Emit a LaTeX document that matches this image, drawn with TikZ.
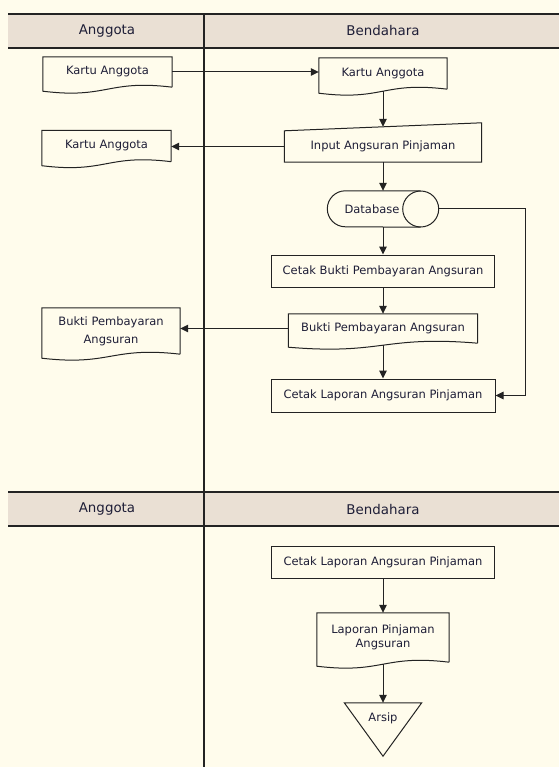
\documentclass[tikz,border=0pt]{standalone}
\usepackage{fontspec}
\setmainfont{DejaVu Sans}
\usetikzlibrary{positioning,arrows.meta}

\definecolor{paper}{RGB}{255,252,236}
\definecolor{lanehead}{RGB}{234,224,212}
\definecolor{ink}{RGB}{35,35,35}
\definecolor{txt}{RGB}{30,30,55}

\tikzset{
	every node/.style={font=\fontsize{11.5}{14}\selectfont, text=txt},
	outline/.style={draw=ink, line width=1pt},
	proc/.style={outline, fill=paper},
	docu/.style={inner sep=2pt, align=center},
	lanetitle/.style={font=\fontsize{13.4}{16}\selectfont},
	flow/.style={outline, -{Triangle[length=8pt,width=7.5pt]}},
}

\newcommand{\docshape}[1]{\draw[outline] (#1.south east) -- (#1.north east) -- (#1.north west) -- ([yshift=-4pt]#1.south west) .. controls ([yshift=-12pt]#1.south) and ([yshift=8pt]#1.south) .. (#1.south east);}

\begin{document}
\begin{tikzpicture}[x=1pt, y=1pt, node distance=60pt, on grid]
			\useasboundingbox[fill=paper] (0,0) rectangle (559,-767);
			\fill[lanehead] (8,-14) rectangle (559,-48);
			\fill[lanehead] (8,-492) rectangle (559,-526);
			\draw[ink, line width=1.1pt] (8,-14) -- (559,-14) (8,-48) -- (559,-48)
				(8,-492) -- (559,-492) (8,-526) -- (559,-526)
				(204,-14) -- (204,-767);
			\node[lanetitle] (agt_1) at (107,-31) {Anggota};
			\node[lanetitle] (bdh_1) at (383,-31) {Bendahara};
			\node[lanetitle] (agt_2) at (107,-509) {Anggota};
			\node[lanetitle] (bdh_2) at (383,-509) {Bendahara};
			
			\node[docu, minimum width=129pt, minimum height=30pt] (kartu_a) at (107.5,-72) {Kartu Anggota};
			\node[docu, minimum width=129pt, minimum height=31pt] (kartu_c) at (106.5,-146) {Kartu Anggota};
			\node[docu, minimum width=138pt, minimum height=46pt] (bukti_a) at (111,-331) {Bukti Pembayaran\\[4pt]Angsuran};
			
			\node[docu, minimum width=128pt, minimum height=31pt] (kartu_b) at (383,-73.5) {Kartu Anggota};
			\node[minimum width=197pt, minimum height=31pt] (input) [below=73pt of kartu_b] {Input Angsuran Pinjaman};
			\node[minimum width=111pt, minimum height=36pt] (db) [below=62.5pt of input] {Database\hspace*{22pt}};
			\node[proc, minimum width=223pt, minimum height=32pt] (cetak_bukti) [below=62pt of db] {Cetak Bukti Pembayaran Angsuran};
			\node[docu, minimum width=189pt, minimum height=29pt] (bukti_b) [below=57.5pt of cetak_bukti] {Bukti Pembayaran Angsuran};
			\node[proc, minimum width=224pt, minimum height=33pt] (cetak_lap) [below=67pt of bukti_b] {Cetak Laporan Angsuran Pinjaman};
			\coordinate (db_out) at (525,-209);
			
			\node[proc, minimum width=223pt, minimum height=32pt] (cetak_lap2) at (383,-562) {Cetak Laporan Angsuran Pinjaman};
			\node[docu, minimum width=132pt, minimum height=49pt] (laporan) [below=75.5pt of cetak_lap2] {Laporan Pinjaman\\Angsuran};
			\node[minimum width=77pt, minimum height=53pt, text depth=24pt] (arsip) [below=92pt of laporan] {Arsip};
			
			\docshape{kartu_a}
			\docshape{kartu_c}
			\docshape{bukti_a}
			\docshape{kartu_b}
			\docshape{bukti_b}
			\docshape{laporan}
			\draw[outline] (input.south west) -- (input.north west) -- ([yshift=8pt]input.north east) -- (input.south east) -- cycle;
			\draw[outline] ([xshift=-18pt]db.north east) -- ([xshift=18pt]db.north west) arc[start angle=90, end angle=270, radius=18pt] -- ([xshift=-18pt]db.south east);
			\draw[outline] ([xshift=-18pt]db.east) circle[radius=18pt];
			\draw[outline] (arsip.north west) -- (arsip.north east) -- (arsip.south) -- cycle;
			
			\draw[flow] (kartu_a.east) -- (kartu_a.east -| kartu_b.west);
			\draw[flow] ([yshift=-2pt]kartu_b.south) -- ([yshift=4pt]input.north);
			\draw[flow] (input.west) -- (input.west -| kartu_c.east);
			\draw[flow] (input.south) -- (db.north);
			\draw[flow] (db.south) -- (cetak_bukti.north);
			\draw[flow] (cetak_bukti.south) -- (bukti_b.north);
			\draw[flow] (bukti_b.west) -- (bukti_b.west -| bukti_a.east);
			\draw[flow] ([yshift=-2pt]bukti_b.south) -- (cetak_lap.north);
			\draw[flow] (db.east) -- (db_out) |- (cetak_lap.east);
			\draw[flow] (cetak_lap2.south) -- (laporan.north);
			\draw[flow] ([yshift=-2pt]laporan.south) -- (arsip.north);
		\end{tikzpicture}
\end{document}
